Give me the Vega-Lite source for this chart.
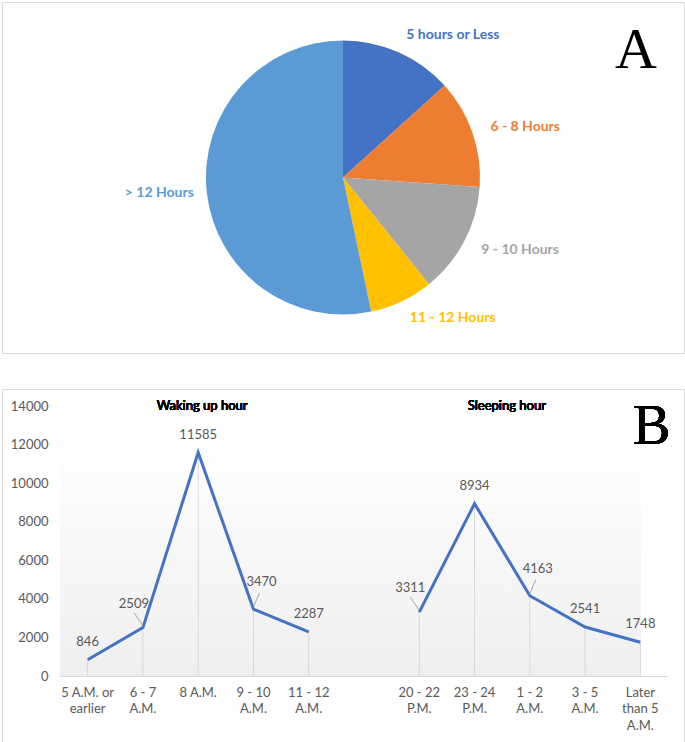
{
  "$schema": "https://vega.github.io/schema/vega-lite/v6.json",
  "padding": {"left": 1, "top": 1, "right": 1, "bottom": 1},
  "spacing": 34,
  "config": {
    "view": {"stroke": "#d9d9d9", "strokeWidth": 1},
    "font": "Lato"
  },
  "datasets": {
    "pie": [
      {"cat": "5 hours or Less", "v": 13.3, "o": 1},
      {"cat": "6 - 8 Hours", "v": 12.8, "o": 2},
      {"cat": "9 - 10 Hours", "v": 13.1, "o": 3},
      {"cat": "11 - 12 Hours", "v": 7.5, "o": 4},
      {"cat": "> 12 Hours", "v": 53.3, "o": 5}
    ],
    "hours": [
      {"g": "Waking", "x": "5 A.M. or|earlier", "v": 846},
      {"g": "Waking", "x": "6 - 7|A.M.", "v": 2509},
      {"g": "Waking", "x": "8 A.M.", "v": 11585},
      {"g": "Waking", "x": "9 - 10|A.M.", "v": 3470},
      {"g": "Waking", "x": "11 - 12|A.M.", "v": 2287},
      {"g": "Sleeping", "x": "20 - 22|P.M.", "v": 3311},
      {"g": "Sleeping", "x": "23 - 24|P.M.", "v": 8934},
      {"g": "Sleeping", "x": "1 - 2|A.M.", "v": 4163},
      {"g": "Sleeping", "x": "3 - 5|A.M.", "v": 2541},
      {"g": "Sleeping", "x": "Later|than 5|A.M.", "v": 1748}
    ]
  },
  "vconcat": [
    {
      "width": 682,
      "height": 351,
      "data": {"name": "pie"},
      "layer": [
        {
          "encoding": {
            "theta": {"field": "v", "type": "quantitative", "stack": true},
            "order": {"field": "o", "type": "ordinal"},
            "color": {
              "field": "cat", "type": "nominal", "legend": null,
              "scale": {
                "domain": ["5 hours or Less", "6 - 8 Hours", "9 - 10 Hours", "11 - 12 Hours", "> 12 Hours"],
                "range": ["#4472C4", "#ED7D31", "#A5A5A5", "#FFC000", "#5B9BD5"]
              }
            }
          },
          "layer": [
            {"mark": {"type": "arc", "outerRadius": 137}},
            {
              "mark": {"type": "text", "radius": 156, "align": "left", "baseline": "middle", "fontWeight": "bold", "fontSize": 14},
              "encoding": {
                "text": {"condition": {"test": "datum.cat != '> 12 Hours'", "field": "cat"}, "value": ""}
              }
            },
            {
              "mark": {"type": "text", "radius": 150, "align": "right", "baseline": "middle", "fontWeight": "bold", "fontSize": 14},
              "encoding": {
                "text": {"condition": {"test": "datum.cat == '> 12 Hours'", "field": "cat"}, "value": ""}
              }
            }
          ]
        },
        {
          "data": {"values": [{"label": "A"}]},
          "mark": {"type": "text", "align": "right", "baseline": "alphabetic", "font": "Liberation Serif", "fontSize": 58, "color": "#000000", "dx": -27, "dy": 66},
          "encoding": {
            "x": {"datum": 1, "type": "quantitative", "scale": {"domain": [0, 1]}, "axis": null},
            "y": {"datum": 1, "type": "quantitative", "scale": {"domain": [0, 1]}, "axis": null},
            "text": {"field": "label"}
          }
        }
      ]
    },
    {
      "width": 682,
      "height": 353,
      "data": {"name": "hours"},
      "encoding": {
        "x": {
          "field": "x", "type": "nominal", "title": null,
          "scale": {
            "domain": ["5 A.M. or|earlier", "6 - 7|A.M.", "8 A.M.", "9 - 10|A.M.", "11 - 12|A.M.", " ", "20 - 22|P.M.", "23 - 24|P.M.", "1 - 2|A.M.", "3 - 5|A.M.", "Later|than 5|A.M."],
            "range": [58, 666], "paddingInner": 0, "paddingOuter": 0
          },
          "axis": {
            "orient": "bottom", "offset": -66, "labelAngle": 0, "ticks": false, "grid": false,
            "domainColor": "#d9d9d9", "labelColor": "#595959", "labelFontSize": 13, "labelPadding": 10,
            "labelLineHeight": 16.5, "labelBaseline": "top", "labelExpr": "split(datum.label, '|')"
          }
        },
        "y": {
          "field": "v", "type": "quantitative", "title": null,
          "scale": {"domain": [0, 14000], "range": [287, 17], "nice": false},
          "axis": {
            "orient": "left", "offset": -58, "values": [0, 2000, 4000, 6000, 8000, 10000, 12000, 14000],
            "format": "d", "domain": false, "ticks": false, "grid": false,
            "labelColor": "#595959", "labelFontSize": 13, "labelPadding": 12
          }
        }
      },
      "layer": [
        {
          "mark": {"type": "rect", "color": {"gradient": "linear", "x1": 0, "y1": 0, "x2": 0, "y2": 1, "stops": [{"offset": 0, "color": "#ffffff"}, {"offset": 1, "color": "#efefef"}]}},
          "encoding": {
            "x": {"datum": "5 A.M. or|earlier", "bandPosition": 0},
            "x2": {"datum": "Later|than 5|A.M."},
            "y": {"datum": 12200},
            "y2": {"datum": 0}
          }
        },
        {
          "mark": {"type": "rule", "color": "#d9d9d9", "strokeWidth": 1},
          "encoding": {"y2": {"datum": 0}}
        },
        {
          "mark": {"type": "line", "color": "#4472C4", "strokeWidth": 3},
          "encoding": {"detail": {"field": "g"}}
        },
        {
          "transform": [{"filter": "datum.v != 2509 && datum.v != 3311 && datum.v != 3470 && datum.v != 4163"}],
          "mark": {"type": "text", "dy": -18, "color": "#595959", "fontSize": 13, "baseline": "middle"},
          "encoding": {"text": {"field": "v", "type": "quantitative", "format": "d"}}
        },
        {
          "transform": [{"filter": "datum.v == 2509 || datum.v == 3311"}],
          "mark": {"type": "text", "dx": -9, "dy": -24, "color": "#595959", "fontSize": 13, "baseline": "middle"},
          "encoding": {"text": {"field": "v", "type": "quantitative", "format": "d"}}
        },
        {
          "transform": [{"filter": "datum.v == 3470 || datum.v == 4163"}],
          "mark": {"type": "text", "dx": 8, "dy": -27, "color": "#595959", "fontSize": 13, "baseline": "middle"},
          "encoding": {"text": {"field": "v", "type": "quantitative", "format": "d"}}
        },
        {
          "transform": [{"filter": "datum.v == 2509 || datum.v == 3311"}],
          "mark": {"type": "rule", "color": "#a6a6a6", "strokeWidth": 1, "yOffset": -2, "x2Offset": -9, "y2Offset": -15},
          "encoding": {"x2": {"field": "x"}, "y2": {"field": "v"}}
        },
        {
          "transform": [{"filter": "datum.v == 3470 || datum.v == 4163"}],
          "mark": {"type": "rule", "color": "#a6a6a6", "strokeWidth": 1, "yOffset": -2, "x2Offset": 6, "y2Offset": -16},
          "encoding": {"x2": {"field": "x"}, "y2": {"field": "v"}}
        },
        {
          "mark": {"type": "text", "color": "#000000", "fontSize": 13, "fontWeight": 400, "baseline": "middle", "dx": 4},
          "encoding": {"x": {"datum": "8 A.M."}, "y": {"datum": 14000}, "text": {"value": "Waking up hour"}}
        },
        {
          "mark": {"type": "text", "color": "#000000", "fontSize": 13, "fontWeight": 400, "baseline": "middle", "dx": -23},
          "encoding": {"x": {"datum": "1 - 2|A.M."}, "y": {"datum": 14000}, "text": {"value": "Sleeping hour"}}
        },
        {
          "mark": {"type": "text", "color": "#000000", "font": "Liberation Serif", "fontSize": 56, "baseline": "alphabetic", "align": "right", "dx": 30, "dy": 38},
          "encoding": {"x": {"datum": "Later|than 5|A.M."}, "y": {"datum": 14000}, "text": {"value": "B"}}
        }
      ]
    }
  ]
}
